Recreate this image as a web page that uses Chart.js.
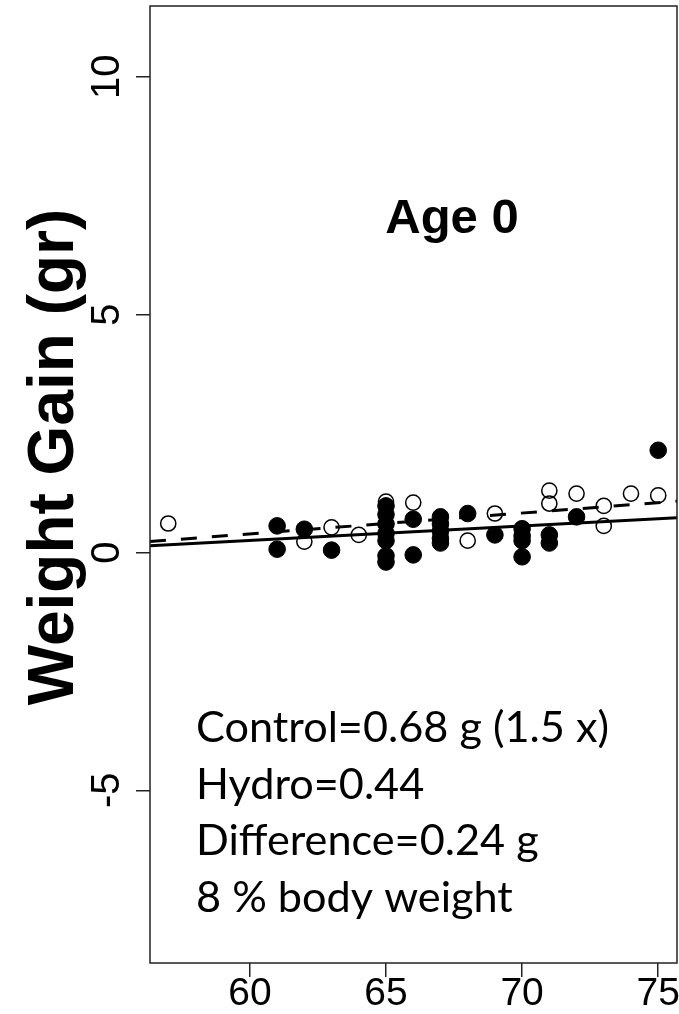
<!DOCTYPE html>
<html>
<head>
<meta charset="utf-8">
<title>Age 0 - Weight Gain</title>
<script src="https://cdn.jsdelivr.net/npm/chart.js@4.4.1/dist/chart.umd.min.js"></script>
<style>
  html, body { margin: 0; padding: 0; background: #fff; }
  canvas { display: block; }
</style>
</head>
<body>
<canvas id="gainChart" width="679" height="1014"></canvas>
<script>
// Length (x) vs weight gain in grams (y)
const controlLength = [57, 62, 63, 64, 65, 66, 68, 69, 71, 71, 72, 73, 73, 74, 75];
const controlGain = [0.61, 0.23, 0.53, 0.37, 1.07, 1.05, 0.25, 0.82, 1.30, 1.03, 1.24, 0.98, 0.56, 1.24, 1.20];

const hydroLength = [61, 61, 62, 63, 65, 65, 65, 65, 65, 65, 65, 66, 66, 67, 67, 67, 67, 67, 68, 69, 70, 70, 70, 70, 71, 71, 72, 75];
const hydroGain = [0.56, 0.07, 0.49, 0.05, 0.98, 0.80, 0.60, 0.40, 0.25, -0.07, -0.20, 0.70, -0.05, 0.75, 0.60, 0.45, 0.30, 0.20, 0.82, 0.37, 0.50, 0.35, 0.25, -0.09, 0.37, 0.20, 0.75, 2.15];

// fitted lines, evaluated at the two ends of the x range
const fitLength = [56.33, 75.69];
const controlFit = [0.23, 1.08];
const hydroFit = [0.14, 0.73];

const xTicks = [60, 65, 70, 75];
const yTicks = [-5, 0, 5, 10];
const xRange = [56.33, 75.69];
const yRange = [-8.63, 11.49];

const panelTitle = 'Age 0';
const yTitle = 'Weight Gain (gr)';
const notes = ['Control=0.68 g (1.5 x)', 'Hydro=0.44', 'Difference=0.24 g', '8 % body weight'];

function toPoints(xs, ys) {
    return xs.map((x, i) => ({ x: x, y: ys[i] }));
}

// frame, rotated y labels, titles and the text block
const decorPlugin = {
    id: 'decor',
    afterDraw(chart) {
        const ctx = chart.ctx;
        const area = chart.chartArea;
        const yScale = chart.scales.y;
        ctx.save();

        ctx.strokeStyle = '#222';
        ctx.lineWidth = 1.5;
        ctx.strokeRect(area.left, area.top, area.right - area.left, area.bottom - area.top);

        ctx.fillStyle = '#000';
        ctx.textAlign = 'center';
        ctx.textBaseline = 'alphabetic';
        ctx.font = '40px "Liberation Sans", Arial, sans-serif';
        yScale.ticks.forEach(t => {
            const py = yScale.getPixelForValue(t.value);
            ctx.save();
            ctx.translate(119, py);
            ctx.rotate(-Math.PI / 2);
            ctx.fillText(String(t.value), 0, 0);
            ctx.restore();
        });

        ctx.font = 'bold 64px "Liberation Sans", Arial, sans-serif';
        ctx.save();
        ctx.translate(73, 457);
        ctx.rotate(-Math.PI / 2);
        ctx.fillText(yTitle, 0, 0);
        ctx.restore();

        ctx.font = 'bold 49px "Liberation Sans", Arial, sans-serif';
        ctx.fillText(panelTitle, 452, 233);

        // Calibri-like block: Lato squeezed to the original width
        ctx.textAlign = 'left';
        ctx.font = '42px Lato, "Open Sans", sans-serif';
        const sx = 413 / ctx.measureText(notes[0]).width;
        notes.forEach((line, i) => {
            ctx.save();
            ctx.translate(196, 742 + i * 56.7);
            ctx.scale(sx, 1);
            ctx.fillText(line, 0, 0);
            ctx.restore();
        });

        ctx.restore();
    }
};

new Chart(document.getElementById('gainChart'), {
    type: 'scatter',
    data: {
        datasets: [
            {
                label: 'Hydro fit',
                data: toPoints(fitLength, hydroFit),
                showLine: true,
                borderColor: '#000',
                borderWidth: 3,
                pointRadius: 0
            },
            {
                label: 'Control fit',
                data: toPoints(fitLength, controlFit),
                showLine: true,
                borderColor: '#000',
                borderWidth: 3,
                borderDash: [16, 15],
                pointRadius: 0
            },
            {
                label: 'Control',
                data: toPoints(controlLength, controlGain),
                pointRadius: 7.6,
                pointBorderWidth: 1.5,
                borderColor: '#000',
                backgroundColor: 'rgba(0, 0, 0, 0)'
            },
            {
                label: 'Hydro',
                data: toPoints(hydroLength, hydroGain),
                pointRadius: 8.3,
                pointBorderWidth: 1,
                borderColor: '#000',
                backgroundColor: '#000'
            }
        ]
    },
    options: {
        responsive: false,
        animation: false,
        events: [],
        layout: {
            autoPadding: false,
            padding: { top: 6, right: 2, left: 0, bottom: 0 }
        },
        plugins: {
            legend: { display: false },
            tooltip: { enabled: false }
        },
        scales: {
            x: {
                type: 'linear',
                min: xRange[0],
                max: xRange[1],
                afterBuildTicks: s => { s.ticks = xTicks.map(v => ({ value: v })); },
                afterFit: s => { s.height = 51; s.paddingLeft = 0; s.paddingRight = 0; },
                border: { display: false },
                grid: {
                    drawOnChartArea: false,
                    drawTicks: true,
                    tickLength: 14,
                    color: '#222',
                    lineWidth: 1.5
                },
                ticks: {
                    autoSkip: false,
                    maxRotation: 0,
                    padding: -6,
                    color: '#000',
                    font: { family: '"Liberation Sans", Arial, sans-serif', size: 39 }
                }
            },
            y: {
                type: 'linear',
                min: yRange[0],
                max: yRange[1],
                afterBuildTicks: s => { s.ticks = yTicks.map(v => ({ value: v })); },
                afterFit: s => { s.width = 150; s.paddingTop = 0; s.paddingBottom = 0; },
                border: { display: false },
                grid: {
                    drawOnChartArea: false,
                    drawTicks: true,
                    tickLength: 14,
                    color: '#222',
                    lineWidth: 1.5
                },
                ticks: { display: false }
            }
        }
    },
    plugins: [decorPlugin]
});
</script>
</body>
</html>
